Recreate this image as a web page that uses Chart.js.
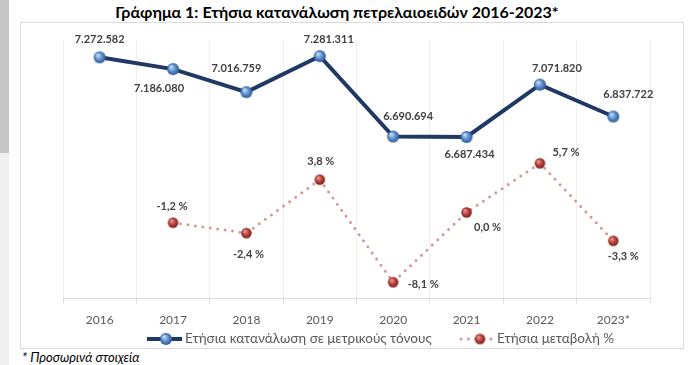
<!DOCTYPE html>
<html>
<head>
<meta charset="utf-8">
<script src="https://cdn.jsdelivr.net/npm/chart.js@4.4.1/dist/chart.umd.min.js"></script>
<style>
  html, body { margin: 0; padding: 0; background: #fff; }
  body { width: 690px; height: 365px; position: relative; overflow: hidden; font-family: Lato, "Open Sans", sans-serif; }
  #barTop { position: absolute; left: 0; top: 0; width: 9px; height: 153px; background: #c6c6c6; }
  #barBottom { position: absolute; left: 0; top: 153px; width: 9px; height: 212px; background: #f0f0f0; }
  #box { position: absolute; left: 20px; top: 22px; width: 662px; height: 325px; border: 1px solid #d9d9d9; }
  #title { position: absolute; left: 0; top: 2px; width: 674px; text-align: center; font-weight: bold; font-size: 16px; line-height: 20px; color: #000; z-index: 2; }
  #note { position: absolute; left: 22px; top: 350px; font-style: italic; font-size: 13px; line-height: 15px; color: #000; }
</style>
</head>
<body>
<div id="barTop"></div>
<div id="barBottom"></div>
<div id="box"><canvas id="myChart" width="662" height="325"></canvas></div>
<div id="title">Γράφημα 1: Ετήσια κατανάλωση πετρελαιοειδών 2016-2023*</div>
<div id="note">* Προσωρινά στοιχεία</div>
<script>
const years = ['2016', '2017', '2018', '2019', '2020', '2021', '2022', '2023*'];
const consumption = [7272582, 7186080, 7016759, 7281311, 6690694, 6687434, 7071820, 6837722];
const change = [null, -1.2, -2.4, 3.8, -8.1, 0.0, 5.7, -3.3];
const seriesNames = ['Ετήσια κατανάλωση σε μετρικούς τόνους', 'Ετήσια μεταβολή %'];
const consumptionRange = [5500000, 7400000];
const changeRange = [-10, 20];

const FONT = 'Lato, "Open Sans", sans-serif';

// little shaded balls for the markers
function sphere(r, light, mid, dark) {
    const c = document.createElement('canvas');
    const s = Math.ceil(r * 2) + 2;
    c.width = s;
    c.height = s;
    const g = c.getContext('2d');
    const grad = g.createRadialGradient(s / 2 - r * 0.35, s / 2 - r * 0.4, r * 0.1, s / 2, s / 2, r);
    grad.addColorStop(0, light);
    grad.addColorStop(0.55, mid);
    grad.addColorStop(1, dark);
    g.fillStyle = grad;
    g.beginPath();
    g.arc(s / 2, s / 2, r, 0, Math.PI * 2);
    g.fill();
    return c;
}
const blueDot = sphere(6, '#c6dcf5', '#5b8ccc', '#2d5a92');
const redDot = sphere(5.2, '#e89a94', '#b8403b', '#7a1c19');

function fmtTonnes(v) { return String(v).replace(/\B(?=(\d{3})+(?!\d))/g, '.'); }
function fmtPct(v) { return v.toFixed(1).replace('.', ',') + ' %'; }

// label offsets from each point, as in the original
const blueOffsets = [[0, -18], [-14, 19], [-10, -24], [9, -17], [15, -20], [3, 17], [17, -16], [15, -22]];
const redOffsets = [null, [-1, -16], [2, 21], [1, -18], [30, 2], [21, 15], [26, -11], [10, 16]];

const valueLabels = {
    id: 'valueLabels',
    afterDatasetsDraw(chart) {
        const ctx = chart.ctx;
        ctx.save();
        ctx.font = 'bold 11px ' + FONT;
        ctx.fillStyle = '#404040';
        ctx.textAlign = 'center';
        ctx.textBaseline = 'middle';
        chart.getDatasetMeta(0).data.forEach((pt, i) => {
            const o = blueOffsets[i];
            ctx.fillText(fmtTonnes(consumption[i]), pt.x + o[0], pt.y + o[1]);
        });
        chart.getDatasetMeta(1).data.forEach((pt, i) => {
            if (change[i] === null) return;
            const o = redOffsets[i];
            ctx.fillText(fmtPct(change[i]), pt.x + o[0], pt.y + o[1]);
        });
        ctx.restore();
    }
};

const bottomLegend = {
    id: 'bottomLegend',
    afterDraw(chart) {
        const ctx = chart.ctx;
        const y = 316;
        ctx.save();
        ctx.strokeStyle = '#1f3864';
        ctx.lineWidth = 4;
        ctx.beginPath();
        ctx.moveTo(126, y);
        ctx.lineTo(161, y);
        ctx.stroke();
        ctx.drawImage(blueDot, 145 - blueDot.width / 2, y - blueDot.height / 2);

        ctx.strokeStyle = '#d99694';
        ctx.lineWidth = 3;
        ctx.lineCap = 'round';
        ctx.setLineDash([0, 7.5]);
        ctx.beginPath();
        ctx.moveTo(440, y);
        ctx.lineTo(472, y);
        ctx.stroke();
        ctx.setLineDash([]);
        ctx.drawImage(redDot, 459 - redDot.width / 2, y - redDot.height / 2);

        ctx.font = '13.5px ' + FONT;
        ctx.fillStyle = '#595959';
        ctx.textAlign = 'left';
        ctx.textBaseline = 'middle';
        ctx.fillText(seriesNames[0], 164, y);
        ctx.fillText(seriesNames[1], 476, y);
        ctx.restore();
    }
};

const ctx = document.getElementById('myChart').getContext('2d');
const myChart = new Chart(ctx, {
    type: 'line',
    data: {
        labels: years,
        datasets: [{
            label: seriesNames[0],
            data: consumption,
            yAxisID: 'y',
            borderColor: '#1f3864',
            borderWidth: 4,
            tension: 0,
            pointStyle: blueDot,
            pointRadius: 6
        }, {
            label: seriesNames[1],
            data: change,
            yAxisID: 'y2',
            borderColor: '#d99694',
            borderWidth: 3,
            borderDash: [0, 7.5],
            borderCapStyle: 'round',
            tension: 0,
            pointStyle: redDot,
            pointRadius: 5
        }]
    },
    options: {
        responsive: false,
        animation: false,
        devicePixelRatio: 1,
        layout: {
            padding: { left: 42, right: 33, top: 17, bottom: 12 }
        },
        plugins: {
            legend: { display: false },
            tooltip: { enabled: false }
        },
        scales: {
            x: {
                offset: true,
                grid: {
                    offset: true,
                    color: '#efefef',
                    tickColor: '#d9d9d9',
                    tickLength: 5
                },
                border: { color: '#d9d9d9' },
                ticks: {
                    color: '#595959',
                    padding: 9,
                    font: { family: FONT, size: 12 }
                }
            },
            y: {
                display: false,
                min: consumptionRange[0],
                max: consumptionRange[1]
            },
            y2: {
                display: false,
                min: changeRange[0],
                max: changeRange[1]
            }
        }
    },
    plugins: [valueLabels, bottomLegend]
});
</script>
</body>
</html>
